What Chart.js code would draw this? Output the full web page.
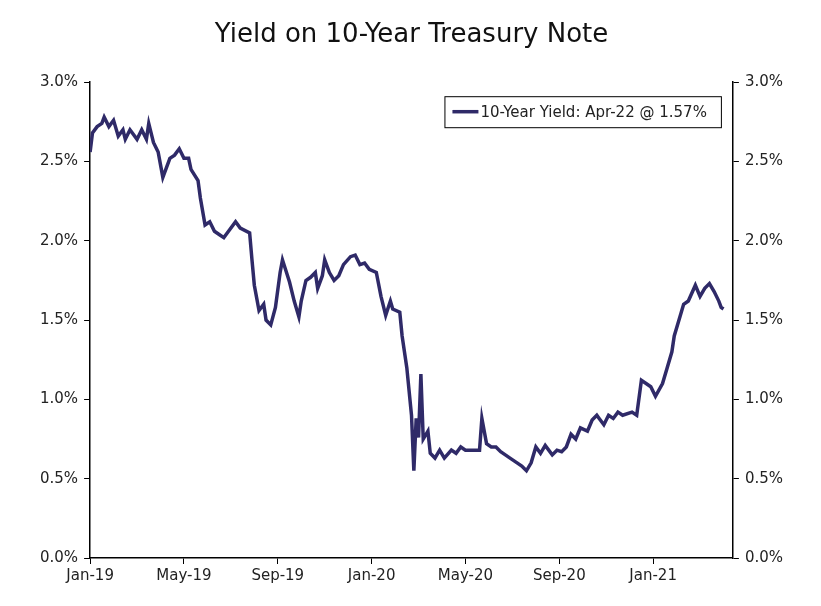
<!DOCTYPE html>
<html>
<head>
<meta charset="utf-8">
<script src="https://cdn.jsdelivr.net/npm/chart.js@4"></script>
<style>
  body { margin: 0; background: #fff; }
  #wrap { width: 821px; height: 606px; }
</style>
</head>
<body>
<div id="wrap"><canvas id="yieldC"></canvas></div>
<script>
// months since Jan-2019
const months = [0,0.1,0.3,0.5,0.6,0.8,1.0,1.2,1.4,1.5,1.7,2.0,2.2,2.4,2.5,2.7,2.9,3.0,3.1,3.4,3.6,3.8,4.0,4.2,4.3,4.6,4.7,4.9,5.1,5.3,5.5,5.7,5.9,6.2,6.4,6.8,6.9,7.0,7.2,7.4,7.5,7.7,7.9,8.1,8.2,8.5,8.7,8.9,9.0,9.2,9.4,9.6,9.7,9.9,10.0,10.2,10.4,10.6,10.8,11.1,11.3,11.5,11.7,11.9,12.2,12.4,12.6,12.8,12.9,13.2,13.3,13.5,13.7,13.8,13.9,14.0,14.1,14.2,14.4,14.5,14.7,14.9,15.1,15.4,15.6,15.8,16.0,16.2,16.6,16.7,16.9,17.1,17.3,17.5,17.7,17.9,18.2,18.4,18.6,18.8,19.0,19.2,19.4,19.7,19.9,20.1,20.3,20.5,20.7,20.9,21.2,21.4,21.6,21.7,21.9,22.1,22.3,22.5,22.7,23.1,23.3,23.5,23.7,23.9,24.1,24.4,24.6,24.8,24.9,25.2,25.3,25.5,25.8,26.0,26.2,26.4,26.6,26.8,26.9,27.0];
const yields = [2.56,2.68,2.72,2.74,2.78,2.72,2.76,2.66,2.70,2.64,2.70,2.64,2.70,2.64,2.74,2.62,2.56,2.48,2.40,2.52,2.54,2.58,2.52,2.52,2.45,2.38,2.27,2.10,2.12,2.06,2.04,2.02,2.06,2.12,2.08,2.05,1.88,1.72,1.56,1.60,1.50,1.47,1.58,1.80,1.88,1.74,1.62,1.52,1.62,1.75,1.77,1.80,1.70,1.78,1.88,1.80,1.75,1.78,1.85,1.90,1.91,1.85,1.86,1.82,1.80,1.65,1.53,1.62,1.57,1.55,1.40,1.20,0.90,0.55,0.88,0.76,1.16,0.75,0.80,0.66,0.63,0.68,0.63,0.68,0.66,0.70,0.68,0.68,0.68,0.88,0.72,0.70,0.70,0.67,0.65,0.63,0.60,0.58,0.55,0.60,0.70,0.66,0.71,0.65,0.68,0.67,0.70,0.78,0.75,0.82,0.80,0.87,0.90,0.88,0.84,0.90,0.88,0.92,0.90,0.92,0.90,1.12,1.10,1.08,1.02,1.10,1.20,1.30,1.40,1.55,1.60,1.62,1.72,1.65,1.70,1.73,1.68,1.62,1.58,1.57];
const tickMonths = [0,4,8,12,16,20,24];
const tickLabels = ["Jan-19","May-19","Sep-19","Jan-20","May-20","Sep-20","Jan-21"];
const legendText = "10-Year Yield: Apr-22 @ 1.57%";
const lineColor = "#2f2a68";

const points = months.map((m, i) => ({ x: m, y: yields[i] }));

const boxLegend = {
  id: "boxLegend",
  afterDraw(chart) {
    const ctx = chart.ctx;
    const a = chart.chartArea;
    ctx.save();
    ctx.font = "15px 'DejaVu Sans'";
    const w = ctx.measureText(legendText).width + 50;
    const x0 = a.right - 12 - w, y0 = a.top + 14, h = 31;
    ctx.strokeStyle = "#000"; ctx.lineWidth = 1;
    ctx.strokeRect(x0 + 0.5, y0 + 0.5, w, h);
    ctx.strokeStyle = lineColor; ctx.lineWidth = 3.5;
    ctx.beginPath(); ctx.moveTo(x0 + 8, y0 + h / 2); ctx.lineTo(x0 + 34, y0 + h / 2); ctx.stroke();
    ctx.fillStyle = "#222"; ctx.textBaseline = "middle";
    ctx.fillText(legendText, x0 + 36, y0 + h / 2 + 1);
    ctx.restore();
  }
};

const pct = (v) => v.toFixed(1) + "%";
const yAxis = (pos) => ({
  position: pos, min: 0, max: 3,
  ticks: { stepSize: 0.5, callback: pct, color: "#222", font: { family: "DejaVu Sans", size: 15 }, padding: 6 },
  grid: { drawOnChartArea: false, tickLength: 6, color: "#000" },
  border: { color: "#000", width: 1.5 }
});

new Chart(document.getElementById("yieldC"), {
  type: "line",
  data: { datasets: [{ data: points, borderColor: lineColor, borderWidth: 3.5, pointRadius: 0, tension: 0 }] },
  plugins: [boxLegend],
  options: {
    responsive: true, maintainAspectRatio: false, animation: false,
    layout: { padding: { left: 34, right: 32, top: 4, bottom: 18 } },
    plugins: {
      legend: { display: false }, tooltip: { enabled: false },
      title: { display: true, text: "Yield on 10-Year Treasury Note", color: "#111",
        font: { family: "DejaVu Sans", size: 26, weight: "normal" }, padding: { top: 16, bottom: 31 } }
    },
    scales: {
      x: {
        type: "linear", min: 0, max: 27.4,
        afterBuildTicks: (s) => { s.ticks = tickMonths.map((v) => ({ value: v })); },
        ticks: { callback: (v) => tickLabels[tickMonths.indexOf(v)], color: "#222", maxRotation: 0,
          font: { family: "DejaVu Sans", size: 15 } },
        grid: { drawOnChartArea: false, tickLength: 6, color: "#000" },
        border: { color: "#000", width: 1.5 }
      },
      y: yAxis("left"),
      y2: yAxis("right")
    }
  }
});
</script>
</body>
</html>
